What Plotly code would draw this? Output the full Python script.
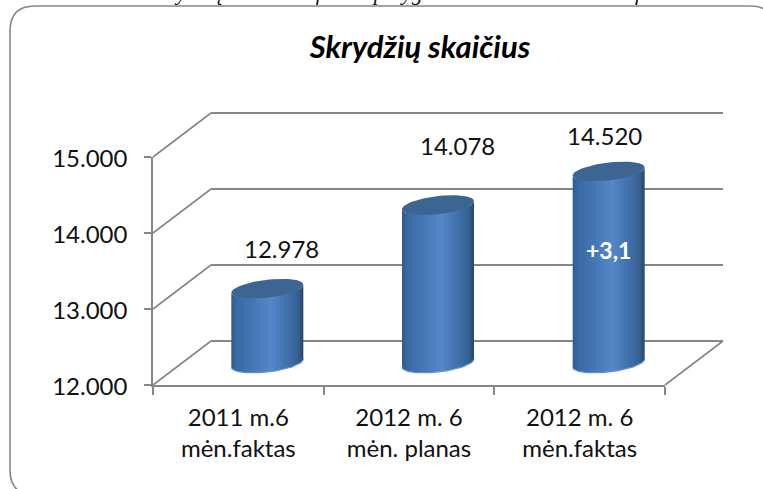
import numpy as np
import plotly.graph_objects as go

# data
categories = ["2011 m.6<br>mėn.faktas", "2012 m. 6<br>mėn. planas", "2012 m. 6<br>mėn.faktas"]
values = [12978, 14078, 14520]
y_ticks = [12000, 13000, 14000, 15000]
title_text = "Skrydžių skaičius"
inner_label = "+3,1"
top_text = "Pagal 2012 m. 6 mėn. skrydžių skaičiaus faktas palygintas su 2011 m. 6 mėn. faktu ir 2012 m. 6 mėn. planu ir šių metų rezultatais, procentais, lentelėje."

W, H = 763, 489
GREY = "#868686"
FONT = "Lato"
TXT = "#111111"

def fx(px):
    return px / W
def fy(py):
    return 1 - py / H

# pixel frame of the front axes
X0, X1, Y0, Y1 = 153, 665, 385, 157
PX_PER_CAT = (X1 - X0) / 3
PX_PER_VAL = (Y0 - Y1) / 3000
# depth of the 3D box
DEPTH_X, DEPTH_Y = 58, 44
depth_x = DEPTH_X / PX_PER_CAT
depth_y = DEPTH_Y / PX_PER_VAL

def shifted_axes(ox, oy, left, right, below, above):
    """Hidden axes with the front scale, shifted by (ox, -oy) px and padded so nothing gets clipped."""
    xa = dict(domain=[fx(X0 + ox - left), fx(X1 + ox + right)],
              range=[-0.5 - left / PX_PER_CAT, 2.5 + right / PX_PER_CAT], visible=False, fixedrange=True, automargin=False)
    ya = dict(domain=[fy(Y0 - oy + below), fy(Y1 - oy - above)],
              range=[12000 - below / PX_PER_VAL, 15000 + above / PX_PER_VAL], visible=False, fixedrange=True, automargin=False)
    return xa, ya

fig = go.Figure()

def wall_line(xs, ys, width):
    fig.add_trace(go.Scatter(x=xs, y=ys, mode="lines", line=dict(color=GREY, width=width),
                             xaxis="x2", yaxis="y2", hoverinfo="skip", showlegend=False))

# --- back wall: diagonals and grid lines
for v in y_ticks:
    wall_line([-0.5 - depth_x, -0.5], [v - depth_y, v], 1.6)
wall_line([2.5 - depth_x, 2.5], [y_ticks[0] - depth_y, y_ticks[0]], 1.6)
for v in y_ticks:
    wall_line([-0.5, 2.5], [v, v], 2)

# --- front axes carrying ticks and labels
fig.add_trace(go.Scatter(x=categories, y=[None] * 3, mode="lines", xaxis="x", yaxis="y",
                         hoverinfo="skip", showlegend=False))

# --- cylinders, on axes shifted by half the depth
positions = list(range(len(values)))
half_w = 36 / PX_PER_CAT
ry = 9 / PX_PER_VAL
tilt = 4 / PX_PER_VAL
base = y_ticks[0]

fig.add_trace(go.Bar(x=positions, y=[v - base for v in values], base=base, width=0.37,
                     marker=dict(color="#4a7ab8", line=dict(width=0)),
                     xaxis="x3", yaxis="y3", showlegend=False, hoverinfo="skip"))

BODY = [[0, "#2f5a8c"], [0.08, "#3a6aa5"], [0.3, "#4677b5"], [0.55, "#5587c9"],
        [0.8, "#3f6ea8"], [0.93, "#35608f"], [1, "#27446a"]]
for p, v in zip(positions, values):
    t_front = np.linspace(np.pi, 2 * np.pi, 60)
    xs = p + half_w * np.cos(t_front)
    low = base + ry * np.sin(t_front) + tilt * np.cos(t_front)
    high = v + ry * np.sin(t_front) + tilt * np.cos(t_front)
    fig.add_trace(go.Scatter(x=np.r_[xs, xs[::-1]], y=np.r_[low, high[::-1]], mode="lines",
                             line=dict(width=0), fill="toself",
                             fillgradient=dict(type="horizontal", colorscale=BODY),
                             xaxis="x3", yaxis="y3", hoverinfo="skip", showlegend=False))
    fig.add_trace(go.Scatter(x=xs, y=low, mode="lines", line=dict(width=1.2, color="#5f92d4"),
                             xaxis="x3", yaxis="y3", hoverinfo="skip", showlegend=False))
    t = np.linspace(0, 2 * np.pi, 80)
    fig.add_trace(go.Scatter(x=p + half_w * np.cos(t), y=v + ry * np.sin(t) + tilt * np.cos(t),
                             mode="lines", line=dict(width=0), fill="toself", fillcolor="#3d6592",
                             xaxis="x3", yaxis="y3", hoverinfo="skip", showlegend=False))

# --- value labels (placed by hand in the original)
label_shift = [(14, 40), (19, 60), (-4, 36)]
annotations = []
for p, v, (dx, dy) in zip(positions, values, label_shift):
    annotations.append(dict(x=p, y=v, xref="x3", yref="y3", xshift=dx, yshift=dy, showarrow=False,
                            text=f"{v:,}".replace(",", "."), xanchor="center", yanchor="middle",
                            font=dict(family=FONT, size=24, color=TXT)))
annotations.append(dict(x=positions[2], y=values[2], xref="x3", yref="y3", yshift=-79, showarrow=False,
                        text=inner_label, font=dict(family=FONT, size=23, color="white", weight="bold")))
annotations.append(dict(x=fx(-52), y=fy(7), xref="paper", yref="paper", xanchor="left", yanchor="bottom",
                        showarrow=False, text=top_text,
                        font=dict(family="Liberation Serif", size=22, color="#111111", style="italic")))

# --- rounded frame
L, T, R, B, r = 10, 6, 775, 495, 25
pt = lambda x, y: f"{fx(x):.5f},{fy(y):.5f}"
frame = (f"M {pt(L + r, T)} L {pt(R - r, T)} Q {pt(R, T)} {pt(R, T + r)} L {pt(R, B - r)} "
         f"Q {pt(R, B)} {pt(R - r, B)} L {pt(L + r, B)} Q {pt(L, B)} {pt(L, B - r)} "
         f"L {pt(L, T + r)} Q {pt(L, T)} {pt(L + r, T)} Z")

x2a, y2a = shifted_axes(DEPTH_X, DEPTH_Y, 70, 6, 56, 6)
x3a, y3a = shifted_axes(DEPTH_X / 2, DEPTH_Y / 2, 10, 10, 20, 20)
x2a["anchor"], y2a["anchor"], x3a["anchor"], y3a["anchor"] = "y2", "x2", "y3", "x3"

fig.update_layout(
    template="none",
    width=W, height=H, margin=dict(l=0, r=0, t=0, b=0, pad=0), autosize=False,
    paper_bgcolor="white", plot_bgcolor="rgba(0,0,0,0)", separators=",.",
    title=dict(text=title_text, x=fx(420), y=fy(47), xanchor="center", yanchor="middle", xref="paper", yref="paper",
               font=dict(family=FONT, size=31, color="#000000", weight="bold", style="italic")),
    xaxis=dict(domain=[fx(X0), fx(X1)], type="category", tickson="boundaries", categoryorder="array",
               categoryarray=categories, range=[-0.5, 2.5], ticks="outside", ticklen=8, tickwidth=1.5, tickcolor=GREY,
               showline=True, linecolor=GREY, linewidth=1.6, showgrid=False, zeroline=False,
               tickfont=dict(family=FONT, size=24, color=TXT), ticklabelstandoff=10, fixedrange=True,
               anchor="y", automargin=False),
    yaxis=dict(domain=[fy(Y0), fy(Y1)], range=[12000, 15000], tickvals=y_ticks, tickformat=",d",
               ticks="outside", ticklen=7, tickwidth=1.5, tickcolor=GREY, showline=True, linecolor=GREY,
               linewidth=1.6, showgrid=False, zeroline=False, ticklabelstandoff=12, ticklabelshift=2,
               tickfont=dict(family=FONT, size=24, color=TXT), fixedrange=True, anchor="x", automargin=False),
    xaxis2=x2a, yaxis2=y2a, xaxis3=x3a, yaxis3=y3a,
    annotations=annotations,
    shapes=[dict(type="path", path=frame, xref="paper", yref="paper",
                 line=dict(color=GREY, width=1.6), fillcolor="rgba(0,0,0,0)", layer="below")],
)
fig.write_html("out.html", config={"displayModeBar": False},
               post_script="document.body.style.margin='0';document.documentElement.style.overflow='hidden';")
